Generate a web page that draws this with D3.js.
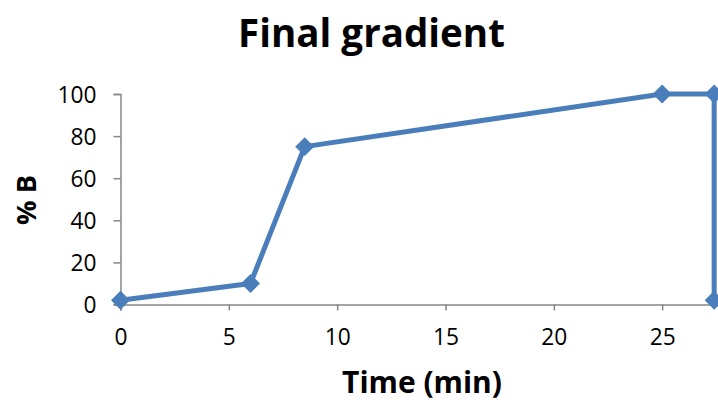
<!DOCTYPE html>
<html><head><meta charset="utf-8">
<script src="https://cdn.jsdelivr.net/npm/d3@7"></script>
<style>body{margin:0;background:#fff}svg{display:block}</style>
</head><body><svg id="c" width="718" height="403"></svg>
<script>
const title = "Final gradient";
const xLabel = "Time (min)";
const yLabel = "% B";
const times = [0, 6, 8.5, 25, 27.4, 27.4];
const percentB = [2, 10, 75, 100, 100, 2];
const xTicks = [0, 5, 10, 15, 20, 25];
const yTicks = [0, 20, 40, 60, 80, 100];

const svg = d3.select("#c");
const font = "'Open Sans', 'DejaVu Sans', sans-serif";
const x = d3.scaleLinear().domain([0, 30]).range([120.5, 770.5]);
const y = d3.scaleLinear().domain([0, 100]).range([304.5, 94]);
const axisColor = "#868686";

const gx = svg.append("g").attr("transform", `translate(0,${y(0)})`)
  .call(d3.axisBottom(x).tickValues(xTicks).tickSize(6).tickPadding(26).tickFormat(d3.format("d")));
const gy = svg.append("g").attr("transform", `translate(${x(0)},0)`)
  .call(d3.axisLeft(y).tickValues(yTicks).tickSize(7).tickPadding(17).tickFormat(d3.format("d")));
[gx, gy].forEach(g => {
  g.attr("font-size", null).attr("font-family", null);
  g.select(".domain").attr("stroke", axisColor).attr("stroke-width", 1.5);
  g.selectAll(".tick line").attr("stroke", axisColor).attr("stroke-width", 1.5);
  g.selectAll(".tick text").attr("fill", "#000").style("font-family", font).style("font-size", "22px");
});
// scale tick font so that "100" is about 39px wide, as in the reference
const ref = gy.selectAll(".tick text").filter(d => d === 100).node();
const tf = 22 * 39 / ref.getComputedTextLength();
svg.selectAll(".tick text").style("font-size", tf + "px").attr("dy", "0.36em");

const line = d3.line().x((d, i) => x(times[i])).y(d => y(d));
svg.append("path").datum(percentB).attr("d", line)
  .attr("fill", "none").attr("stroke", "#4A7EBB").attr("stroke-width", 5).attr("stroke-linejoin", "round");

svg.selectAll(".m").data(percentB).enter().append("path")
  .attr("d", d3.symbol(d3.symbolDiamond2, 230))
  .attr("transform", (d, i) => `translate(${x(times[i])},${y(d)})`)
  .attr("fill", "#4A7EBB");

function fitText(t, w) {
  const n = t.node(); const fs = parseFloat(t.style("font-size"));
  t.style("font-size", (fs * w / n.getComputedTextLength()) + "px");
}
const tt = svg.append("text").attr("x", 371.5).attr("y", 47).attr("text-anchor", "middle")
  .style("font-family", font).style("font-weight", "bold").style("font-size", "34px").text(title);
fitText(tt, 267);
const xl = svg.append("text").attr("x", 422).attr("y", 393).attr("text-anchor", "middle")
  .style("font-family", font).style("font-weight", "bold").style("font-size", "24px").text(xLabel);
fitText(xl, 160);
const yl = svg.append("text").attr("transform", "translate(36,200) rotate(-90)").attr("text-anchor", "middle")
  .style("font-family", font).style("font-weight", "bold").style("font-size", "24px").text(yLabel);
fitText(yl, 50);
</script></body></html>
